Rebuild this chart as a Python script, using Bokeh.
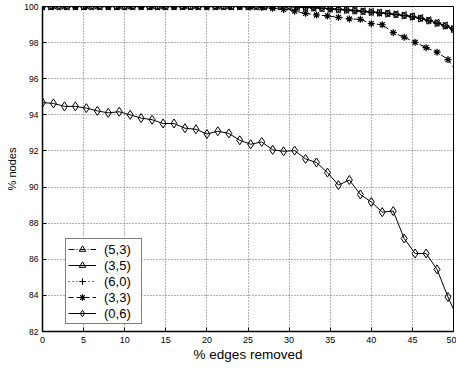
import math
from bokeh.plotting import figure
from bokeh.models import Range1d, FixedTicker, Legend, LegendItem
from bokeh.embed import file_html
from bokeh.resources import INLINE

# ---------------- data ----------------
x_ticks = [0, 5, 10, 15, 20, 25, 30, 35, 40, 45, 50]
y_ticks = [82, 84, 86, 88, 90, 92, 94, 96, 98, 100]

# % edges removed, 1 % steps (series (5,3), (3,5), (6,0))
edges_a = [0, 1, 2, 3, 4, 5, 6, 7, 8, 9, 10, 11, 12, 13, 14, 15, 16, 17, 18, 19,
           20, 21, 22, 23, 24, 25, 26, 27, 28, 29, 30, 31, 32, 33, 34, 35, 36, 37,
           38, 39, 40, 41, 42, 43, 44, 45, 46, 47, 48, 49, 50]

# % edges removed, 4/3 % steps (series (3,3), (0,6))
edges_b = [0.00, 1.33, 2.67, 4.00, 5.33, 6.67, 8.00, 9.33, 10.67, 12.00, 13.33,
           14.67, 16.00, 17.33, 18.67, 20.00, 21.33, 22.67, 24.00, 25.33, 26.67,
           28.00, 29.33, 30.67, 32.00, 33.33, 34.67, 36.00, 37.33, 38.67, 40.00,
           41.33, 42.67, 44.00, 45.33, 46.67, 48.00, 49.33, 50.67]

nodes_53 = [100, 100, 100, 100, 100, 100, 100, 100, 100, 100, 100, 100, 100, 100,
            100, 100, 100, 100, 100, 100, 100, 100, 100, 100, 100, 100, 100, 100,
            100, 100, 100,
            99.97, 99.95, 99.93, 99.90, 99.88, 99.85, 99.82, 99.78, 99.74, 99.70,
            99.66, 99.62, 99.57, 99.52, 99.45, 99.36, 99.24, 99.10, 98.95, 98.78]

nodes_35 = [100, 100, 100, 100, 100, 100, 100, 100, 100, 100, 100, 100, 100, 100,
            100, 100, 100, 100, 100, 100, 100, 100, 100, 100, 100, 100, 100, 100,
            100, 100, 100,
            99.98, 99.96, 99.93, 99.91, 99.87, 99.84, 99.80, 99.77, 99.73, 99.69,
            99.65, 99.60, 99.56, 99.50, 99.43, 99.33, 99.22, 99.08, 98.93, 98.75]

nodes_60 = [100, 100, 100, 100, 100, 100, 100, 100, 100, 100, 100, 100, 100, 100,
            100, 100, 100, 100, 100, 100, 100, 100, 100, 100, 100, 100, 100, 100,
            100, 100, 100,
            99.97, 99.94, 99.92, 99.89, 99.86, 99.84, 99.81, 99.76, 99.72, 99.68,
            99.64, 99.61, 99.55, 99.49, 99.42, 99.35, 99.20, 99.07, 98.92, 98.72]

nodes_33 = [100, 100, 100, 100, 100, 100, 100, 100, 100, 100, 100, 100, 100, 100,
            100, 100, 100, 100, 100,
            99.97, 99.94, 99.90, 99.84, 99.74, 99.62, 99.53, 99.48, 99.40, 99.31,
            99.29, 99.05, 98.99, 98.55, 98.30, 98.02, 97.72, 97.47, 97.06, 96.20]

nodes_06 = [94.68, 94.63, 94.47, 94.47, 94.37, 94.22, 94.11, 94.17, 94.00, 93.82,
            93.73, 93.52, 93.52, 93.26, 93.20, 92.94, 93.09, 92.97, 92.59, 92.37,
            92.50, 92.06, 91.98, 92.02, 91.56, 91.36, 90.80, 90.11, 90.39, 89.59,
            89.17, 88.61, 88.67, 87.15, 86.32, 86.32, 85.44, 83.91, 82.55]

labels = ["(5,3)", "(3,5)", "(6,0)", "(3,3)", "(0,6)"]

# ---------------- figure ----------------
FONT = "Liberation Sans"

p = figure(width=456, height=368,
           x_range=Range1d(0, 50), y_range=Range1d(82, 100),
           output_backend="svg", toolbar_location=None,
           min_border_left=42, min_border_right=3,
           min_border_top=6, min_border_bottom=37)

p.background_fill_color = "white"
p.border_fill_color = "white"
p.outline_line_color = "black"
p.outline_line_width = 1

for ax, ticks in ((p.xaxis[0], x_ticks), (p.yaxis[0], y_ticks)):
    ax.ticker = FixedTicker(ticks=ticks)
    ax.major_tick_in = 4
    ax.major_tick_out = 0
    ax.minor_tick_in = 0
    ax.minor_tick_out = 0
    ax.axis_line_width = 1.5
    ax.axis_line_color = "black"
    ax.major_tick_line_color = "black"
    ax.major_label_text_font = FONT
    ax.major_label_text_color = "black"
    ax.axis_label_text_font = FONT
    ax.axis_label_text_font_style = "normal"
    ax.axis_label_text_color = "black"

p.xaxis.axis_label = "% edges removed"
p.xaxis.axis_label_text_font_size = "13.5px"
p.xaxis.major_label_text_font_size = "9px"
p.xaxis.major_label_standoff = 5
p.xaxis.axis_label_standoff = 1

p.yaxis.axis_label = "% nodes"
p.yaxis.axis_label_text_font_size = "11px"
p.yaxis.major_label_text_font_size = "8.5px"
p.yaxis.major_label_standoff = 4
p.yaxis.axis_label_standoff = 3

p.xgrid.ticker = FixedTicker(ticks=x_ticks)
p.ygrid.ticker = FixedTicker(ticks=y_ticks)
for g in (p.xgrid[0], p.ygrid[0]):
    g.grid_line_color = "#666666"
    g.grid_line_dash = "1 2"
    g.grid_line_width = 1

# ---------------- series ----------------
K = "black"
items = []

l1 = p.line(edges_a, nodes_53, line_color=K, line_width=1, line_dash="6 2 1 2")
m1 = p.scatter(edges_a, nodes_53, marker="triangle", angle=math.pi / 2, size=7,
               fill_color=None, line_color=K, line_width=1)
items.append(LegendItem(label=labels[0], renderers=[l1, m1]))

l2 = p.line(edges_a, nodes_35, line_color=K, line_width=1)
m2 = p.scatter(edges_a, nodes_35, marker="triangle", angle=-math.pi / 2, size=7,
               fill_color=None, line_color=K, line_width=1)
items.append(LegendItem(label=labels[1], renderers=[l2, m2]))

l3 = p.line(edges_a, nodes_60, line_color=K, line_width=1, line_dash="1 3")
m3 = p.scatter(edges_a, nodes_60, marker="cross", size=7,
               line_color=K, line_width=1)
items.append(LegendItem(label=labels[2], renderers=[l3, m3]))

l4 = p.line(edges_b, nodes_33, line_color=K, line_width=1, line_dash="5 3")
m4 = p.scatter(edges_b, nodes_33, marker="asterisk", size=7,
               line_color=K, line_width=1.2)
items.append(LegendItem(label=labels[3], renderers=[l4, m4]))

l5 = p.line(edges_b, nodes_06, line_color=K, line_width=1)
m5 = p.scatter(edges_b, nodes_06, marker="diamond", size=9,
               fill_color=None, line_color=K, line_width=1)
items.append(LegendItem(label=labels[4], renderers=[l5, m5]))

legend = Legend(items=items, location=(23, 7),
                label_text_font=FONT, label_text_font_size="13px",
                label_text_color="black",
                label_height=16, glyph_height=16, glyph_width=28,
                label_standoff=8, label_width=35,
                spacing=0, padding=2, margin=0,
                border_line_color="black", border_line_width=1.5,
                background_fill_color="white", background_fill_alpha=1)
p.add_layout(legend)

open("out.html", "w").write(file_html(p, INLINE))
